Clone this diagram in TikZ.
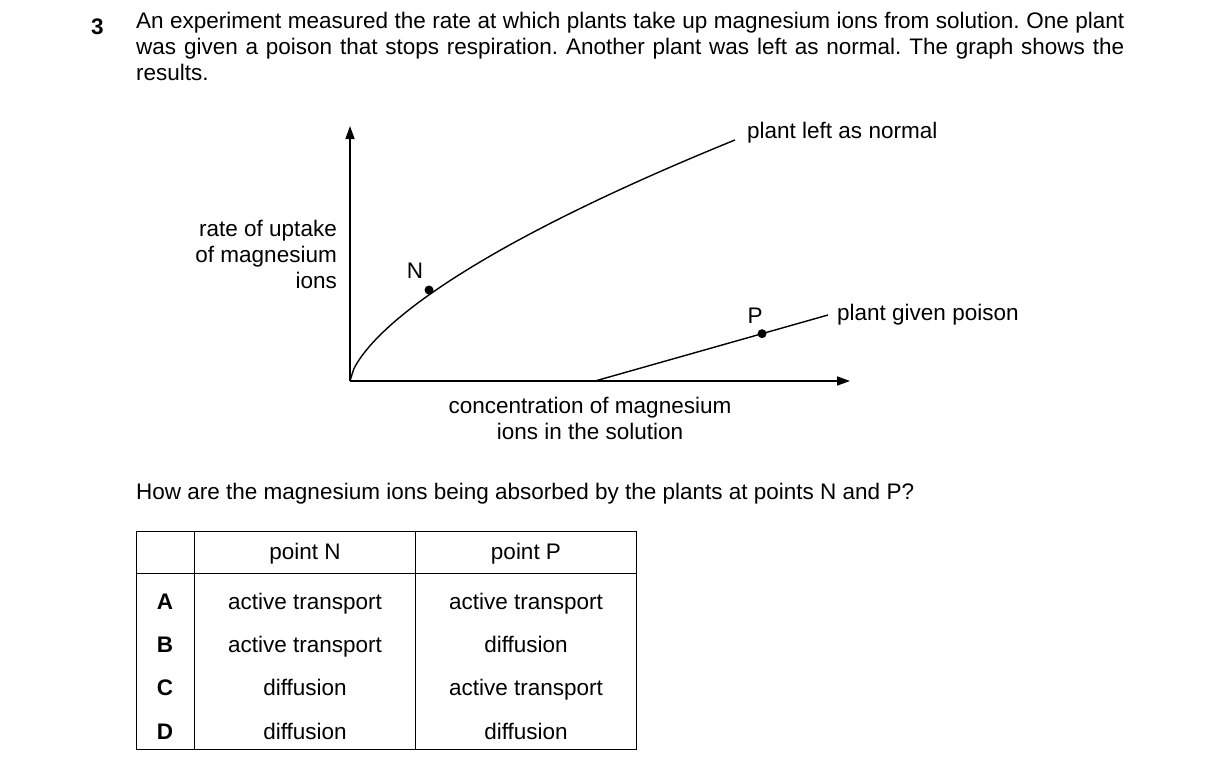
\documentclass[tikz,border=0pt]{standalone}
\usepackage{fontspec}
\setmainfont{Liberation Sans}
\usetikzlibrary{arrows.meta,calc}
\begin{document}
\begin{tikzpicture}[x=1pt,y=-1pt,
  txt/.style={font=\fontsize{22.5}{26}\selectfont,inner sep=0pt},
  ax/.style={line width=1.6pt,-{Triangle[length=13pt,width=9pt]}},
  crv/.style={line width=1.4pt},
  dot/.style={circle,fill,inner sep=0pt,minimum size=9pt}]
\useasboundingbox (0,0) rectangle (1216,774);
\node[txt,anchor=base west,font=\bfseries\fontsize{22.5}{26}\selectfont] (q) at (91,34) {3};
\node[txt,anchor=north west,text width=988pt,align=justify] (intro) at (136,12) {\frenchspacing An experiment measured the rate at which plants take up magnesium ions from solution. One plant was given a poison that stops respiration. Another plant was left as normal. The graph shows the results.};
% axes
\coordinate (O) at (350,381);
\coordinate (Ytop) at (350,126);
\coordinate (Xend) at (850,381);
\draw[ax] (O) -- (Ytop);
\draw[ax] (O) -- (Xend);
\draw[crv] plot[domain=0:385,samples=100,smooth] ({350+\x},{381-5.03*(\x)^0.65});
\coordinate (Npt) at (429,290);
\node[dot] (N) at (Npt) {};
\coordinate (P0) at (595,381);
\coordinate (P1) at (828,315);
\draw[crv] (P0) -- (P1);
\node[dot] (P) at ($(P0)!0.717!(P1)$) {};
\node[txt,anchor=base] (Nl) at (415,278) {N};
\node[txt,anchor=base] (Pl) at (755,323) {P};
\node[txt,anchor=base west] (norm) at (747,138) {plant left as normal};
\node[txt,anchor=base west] (pois) at (837,320) {plant given poison};
\node[txt,anchor=north east,align=right] (yl) at (337,220) {rate of uptake\\of magnesium\\ions};
\node[txt,anchor=north,align=center] (xl) at (590,397) {concentration of magnesium\\ions in the solution};
\node[txt,anchor=base west] (qq) at (136,499) {How are the magnesium ions being absorbed by the plants at points N and P?};
% table
\draw[line width=0.9pt] (136,531) rectangle (636,749);
\draw[line width=0.9pt] (136,573) -- (636,573);
\draw[line width=0.9pt] (194,531) -- (194,749);
\draw[line width=0.9pt] (415,531) -- (415,749);
\node[txt,anchor=base] (hN) at (305,559) {point N};
\node[txt,anchor=base] (hP) at (526,559) {point P};
\foreach \l/\n/\p/\y in {A/active transport/active transport/609,B/active transport/diffusion/652,C/diffusion/active transport/695,D/diffusion/diffusion/739}{
  \node[txt,anchor=base,font=\bfseries\fontsize{22.5}{26}\selectfont] (r\l) at (165,\y) {\l};
  \node[txt,anchor=base] (n\l) at (305,\y) {\n};
  \node[txt,anchor=base] (p\l) at (526,\y) {\p};
}
\end{tikzpicture}
\end{document}
